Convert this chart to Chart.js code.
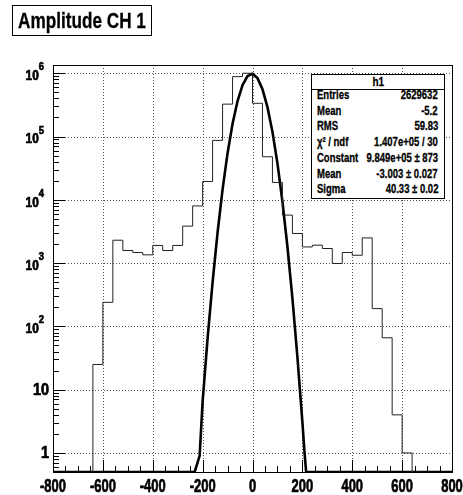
<!DOCTYPE html>
<html>
<head>
<meta charset="utf-8">
<script src="https://cdn.jsdelivr.net/npm/chart.js@4/dist/chart.umd.min.js"></script>
<style>
  html, body { margin: 0; padding: 0; background: #fff; }
  #wrap { position: relative; width: 463px; height: 495px; overflow: hidden; }
  #wrap canvas { position: absolute; left: 0; top: 0; }
  .rt { font-family: 'Liberation Sans', Arial, sans-serif; font-weight: bold; color: #000; -webkit-text-stroke: 0.3px #000; }
  #title { position: absolute; left: 12px; top: 5px; width: 138px; height: 29px; border: 1px solid #000;
           font-size: 22px; line-height: 29px; white-space: nowrap; }
  #title span { position: absolute; left: 50%; top: 0; transform: translateX(-50%) scaleX(0.78); }
  #stats { position: absolute; left: 311px; top: 74px; width: 132px; height: 123px; border: 1px solid #000;
           background: #fff; font-size: 12.5px; }
  #stats .hd { position: absolute; left: 0; right: 0; top: 0; height: 14px; line-height: 14px; text-align: center;
               border-bottom: 1px solid #000; }
  #stats .hd span { display: inline-block; transform: scaleX(0.8); }
  #stats .row { position: absolute; left: 0; right: 0; height: 15px; line-height: 15px; white-space: nowrap; }
  #stats .l { position: absolute; left: 5px; transform: scaleX(0.76); transform-origin: left center; }
  #stats .v { position: absolute; right: 6px; transform: scaleX(0.76); transform-origin: right center; }
</style>
</head>
<body>
<div id="wrap">
  <canvas id="c" width="463" height="495"></canvas>
  <div id="title" class="rt"><span>Amplitude CH 1</span></div>
  <div id="stats" class="rt"><div class="hd"><span>h1</span></div></div>
</div>
<script>
// ---- data ----
const binEdges = [-640, -600, -560, -520, -480, -440, -400, -360, -320, -280, -240, -200, -160, -120, -80, -40,
                  0, 40, 80, 120, 160, 200, 240, 280, 320, 360, 400, 440, 480, 520, 560, 600, 640, 680];
const binCounts = [4, 25, 240, 2300, 1580, 1470, 1350, 1900, 1580, 1900, 3840, 8000, 19500, 87000, 325000, 884000,
                   1000000, 335000, 47900, 18800, 5730, 2940, 1800, 1920, 1700, 986, 1470, 1330, 2500, 191, 66, 4, 1];

// gaussian fit curve (sits on the floor where it drops below the axis minimum)
const fitX = [-800, -232, -212, -200, -180, -160, -140, -120, -100, -80, -60, -40, -20, 0,
              20, 40, 60, 80, 100, 120, 140, 160, 180, 200, 208, 215, 800];
const fitY = [0.5, 0.5, 0.9, 6.5, 65, 500, 3070, 14600, 54600, 159000, 363000, 647000, 901000, 982000,
              837000, 558000, 291000, 118500, 37800, 9400, 1830, 280, 33, 3.1, 1.1, 0.5, 0.5];

const xTicks = [-800, -600, -400, -200, 0, 200, 400, 600, 800];
const xTickLabels = ['-800', '-600', '-400', '-200', '0', '200', '400', '600', '800'];
const yTicks = [1, 10, 100, 1000, 10000, 100000, 1000000];
const yTickLabels = ['1', '10', '10^2', '10^3', '10^4', '10^5', '10^6'];

const statLabels = ['Entries', 'Mean', 'RMS', '\u03C7\u00B2 / ndf', 'Constant', 'Mean', 'Sigma'];
const statValues = ['2629632', '-5.2', '59.83', '1.407e+05 / 30', '9.849e+05 \u00B1 873', '-3.003 \u00B1 0.027', '40.33 \u00B1 0.02'];

const X_MIN = -800, X_MAX = 800, Y_MIN = 0.5, Y_MAX = 1.35e6;
const FONT = "'Liberation Sans', Arial, sans-serif";

// --- stats box ---
const statsBox = document.getElementById('stats');
statLabels.forEach((lab, i) => {
  const row = document.createElement('div');
  row.className = 'row';
  row.style.top = (13 + i * 15.7) + 'px';
  row.innerHTML = '<span class="l"></span><span class="v"></span>';
  row.children[0].textContent = lab;
  row.children[1].textContent = statValues[i];
  statsBox.appendChild(row);
});

// --- histogram outline as step points ---
const histPts = [{ x: binEdges[0], y: Y_MIN }];
binCounts.forEach((c, i) => histPts.push({ x: binEdges[i], y: c }));
histPts.push({ x: binEdges[binEdges.length - 1], y: Y_MIN });

const fitPts = fitX.map((x, i) => ({ x, y: fitY[i] }));

// condensed heavy text, like the ROOT helvetica
function narrowText(ctx, str, x, y, size, sx, align) {
  ctx.save();
  ctx.font = 'bold ' + size + 'px ' + FONT;
  ctx.textBaseline = 'middle';
  const w = ctx.measureText(str).width * sx;
  const left = align === 'right' ? x - w : align === 'center' ? x - w / 2 : x;
  ctx.translate(left, y);
  ctx.scale(sx, 1);
  ctx.textAlign = 'left';
  ctx.lineWidth = 0.7;
  ctx.strokeStyle = '#000';
  ctx.fillText(str, 0, 0);
  ctx.strokeText(str, 0, 0);
  ctx.restore();
  return w;
}

// --- ROOT style frame, dotted grid, inside ticks, labels ---
const rootFrame = {
  id: 'rootFrame',
  beforeDatasetsDraw(chart) {
    const { ctx, chartArea: a, scales: { x, y } } = chart;
    ctx.save();
    ctx.strokeStyle = '#555';
    ctx.lineWidth = 1;
    ctx.setLineDash([1, 2]);
    ctx.beginPath();
    xTicks.slice(1, -1).forEach(v => {
      const px = Math.round(x.getPixelForValue(v)) + 0.5;
      ctx.moveTo(px, a.top); ctx.lineTo(px, a.bottom);
    });
    yTicks.forEach(v => {
      const py = Math.round(y.getPixelForValue(v)) + 0.5;
      ctx.moveTo(a.left, py); ctx.lineTo(a.right, py);
    });
    ctx.stroke();
    ctx.restore();
  },
  afterDatasetsDraw(chart) {
    const { ctx, chartArea: a, scales: { x, y } } = chart;
    ctx.save();
    ctx.strokeStyle = '#000';
    ctx.lineWidth = 1;
    ctx.beginPath();
    for (let v = X_MIN; v <= X_MAX; v += 50) {
      const px = Math.round(x.getPixelForValue(v)) + 0.5;
      const len = v % 200 === 0 ? 12 : 6;
      ctx.moveTo(px, a.bottom); ctx.lineTo(px, a.bottom - len);
    }
    for (let k = -1; k <= 6; k++) {
      for (let m = 1; m <= 9; m++) {
        const v = m * Math.pow(10, k);
        if (v < Y_MIN || v > Y_MAX) continue;
        const py = Math.round(y.getPixelForValue(v)) + 0.5;
        const len = m === 1 ? 12 : 6;
        ctx.moveTo(a.left, py); ctx.lineTo(a.left + len, py);
      }
    }
    ctx.stroke();
    ctx.strokeRect(Math.round(a.left) + 0.5, Math.round(a.top) + 0.5,
                   Math.round(a.right - a.left), Math.round(a.bottom - a.top));

    // axis labels from the library's ticks
    ctx.fillStyle = '#000';
    x.ticks.forEach((t, i) => {
      const lab = t.label != null ? String(t.label) : xTickLabels[i];
      narrowText(ctx, lab, x.getPixelForTick(i), a.bottom + 15, 18, 0.72, 'center');
    });
    y.ticks.forEach((t, i) => {
      const lab = t.label != null ? String(t.label) : yTickLabels[i];
      const py = y.getPixelForTick(i);
      const parts = lab.split('^');
      if (parts.length === 1) {
        narrowText(ctx, parts[0], a.left - 4, py + 1, 16, 0.9, 'right');
      } else {
        const we = narrowText(ctx, parts[1], a.left - 9, py - 6, 11, 0.85, 'right');
        narrowText(ctx, parts[0], a.left - 9 - we, py + 3, 14, 0.85, 'right');
      }
    });
    ctx.restore();
  }
};

new Chart(document.getElementById('c'), {
  type: 'line',
  data: {
    datasets: [
      {
        label: 'h1',
        data: histPts,
        stepped: 'after',
        borderColor: '#222',
        borderWidth: 1,
        pointRadius: 0,
        fill: false
      },
      {
        label: 'fit',
        data: fitPts,
        borderColor: '#000',
        borderWidth: 2.6,
        pointRadius: 0,
        tension: 0,
        fill: false
      }
    ]
  },
  options: {
    responsive: false,
    animation: false,
    events: [],
    layout: { padding: { top: 65, right: 11, left: 0, bottom: 0 } },
    plugins: { legend: { display: false }, tooltip: { enabled: false }, title: { display: false } },
    scales: {
      x: {
        type: 'linear',
        min: X_MIN,
        max: X_MAX,
        grid: { display: false },
        border: { display: false },
        afterBuildTicks: s => { s.ticks = xTicks.map(v => ({ value: v })); },
        afterFit: s => { s.height = 23; s.paddingLeft = 0; s.paddingRight = 0; },
        ticks: {
          display: false,
          autoSkip: false,
          callback: (v) => xTickLabels[xTicks.indexOf(v)]
        }
      },
      y: {
        type: 'logarithmic',
        min: Y_MIN,
        max: Y_MAX,
        grid: { display: false },
        border: { display: false },
        afterBuildTicks: s => { s.ticks = yTicks.map(v => ({ value: v })); },
        afterFit: s => { s.width = 53; s.paddingTop = 0; s.paddingBottom = 0; },
        ticks: {
          display: false,
          autoSkip: false,
          callback: (v) => yTickLabels[yTicks.indexOf(v)]
        }
      }
    }
  },
  plugins: [rootFrame]
});
</script>
</body>
</html>
